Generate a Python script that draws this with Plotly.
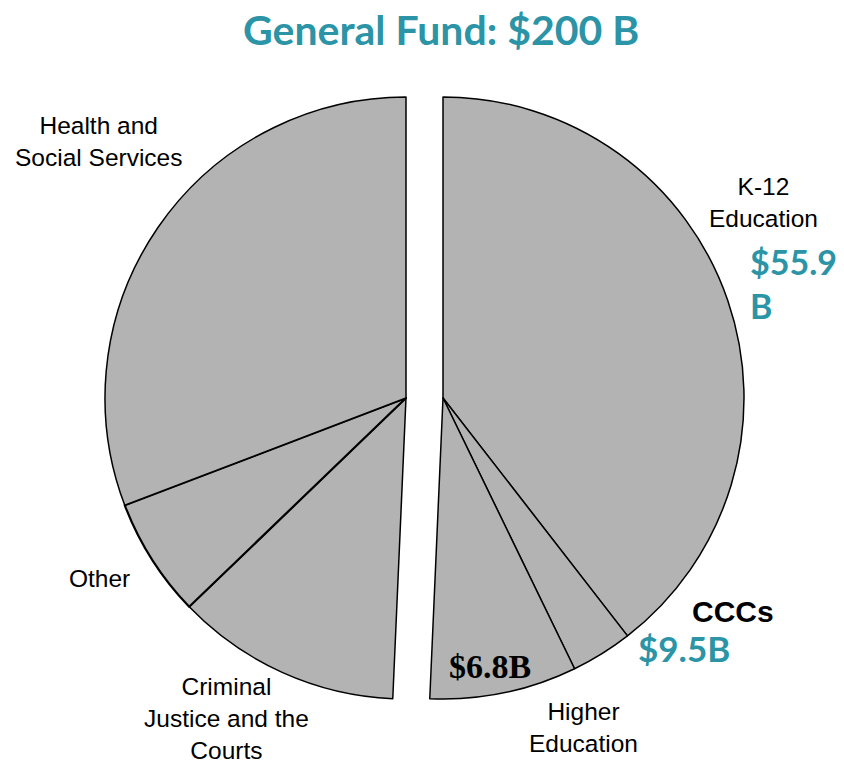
import plotly.graph_objects as go

W, H = 844, 763

# Shares of the pie (percent)
right_labels = ["K-12 Education", "CCCs", "Higher Education"]
right_values = [39.5, 3.3, 7.9]
left_labels = ["Criminal Justice and the Courts", "Other", "Health and Social Services"]
left_values = [12.1, 6.4, 30.8]

title_text = "General Fund: $200 B"
k12_amount = "$55.9<br>B"
ccc_amount = "$9.5B"
higher_amount = "$6.8B"

GRAY = "#b3b3b3"
TEAL = "#2b94a6"
CLEAR = "rgba(0,0,0,0)"

def px(x):
    return x / W

def py(y):
    return 1 - y / H

R = 301
cy = 398
right_cx = 443
left_cx = 406

def dom(cx):
    return dict(x=[px(cx - R), px(cx + R)], y=[py(cy + R), py(cy - R)])

fig = go.Figure()

fig.add_trace(go.Pie(
    labels=right_labels + [" "],
    values=right_values + [sum(left_values)],
    sort=False, direction="clockwise", rotation=0,
    textinfo="none", hoverinfo="label+value",
    marker=dict(colors=[GRAY] * 3 + [CLEAR],
                line=dict(color="black", width=[1.5, 1.5, 1.5, 0])),
    domain=dom(right_cx), showlegend=False,
))

fig.add_trace(go.Pie(
    labels=["  "] + left_labels,
    values=[sum(right_values)] + left_values,
    sort=False, direction="clockwise", rotation=0,
    textinfo="none", hoverinfo="label+value",
    marker=dict(colors=[CLEAR] + [GRAY] * 3,
                line=dict(color="black", width=[0, 1.5, 2.2, 1.5])),
    domain=dom(left_cx), showlegend=False,
))

lab_font = dict(family="Liberation Sans, Arial, sans-serif", size=24.5, color="black")

ann = [
    dict(text="<b>" + title_text + "</b>", x=px(441), y=py(29),
         font=dict(family="Lato, sans-serif", size=41, color=TEAL)),
    dict(text="Health and<br>Social Services", x=px(98), y=py(141), font=lab_font),
    dict(text="K-12<br>Education", x=px(763), y=py(203), font=lab_font),
    dict(text="Other", x=px(99), y=py(578), font=lab_font),
    dict(text="Criminal<br>Justice and the<br>Courts", x=px(227), y=py(718), font=lab_font),
    dict(text="Higher<br>Education", x=px(583), y=py(727), font=lab_font),
    dict(text="<b>CCCs</b>", x=px(733), y=py(611),
         font=dict(family="Liberation Sans, Arial, sans-serif", size=30, color="black")),
    dict(text="<b>" + k12_amount + "</b>", x=px(748), y=py(283), xanchor="left", align="left",
         font=dict(family="Lato, sans-serif", size=34, color=TEAL)),
    dict(text="<b>" + ccc_amount + "</b>", x=px(636), y=py(648), xanchor="left",
         font=dict(family="Lato, sans-serif", size=35, color=TEAL)),
    dict(text="<b>" + higher_amount + "</b>", x=px(490), y=py(666),
         font=dict(family="Liberation Serif, Times New Roman, serif", size=34, color="black")),
]
for a in ann:
    a.setdefault("xanchor", "center")
    a.setdefault("yanchor", "middle")
    a["xref"] = "paper"
    a["yref"] = "paper"
    a["showarrow"] = False

fig.update_layout(
    width=W, height=H,
    margin=dict(l=0, r=0, t=0, b=0),
    paper_bgcolor="white", plot_bgcolor="white",
    annotations=ann,
)

fig.write_html("out.html")
